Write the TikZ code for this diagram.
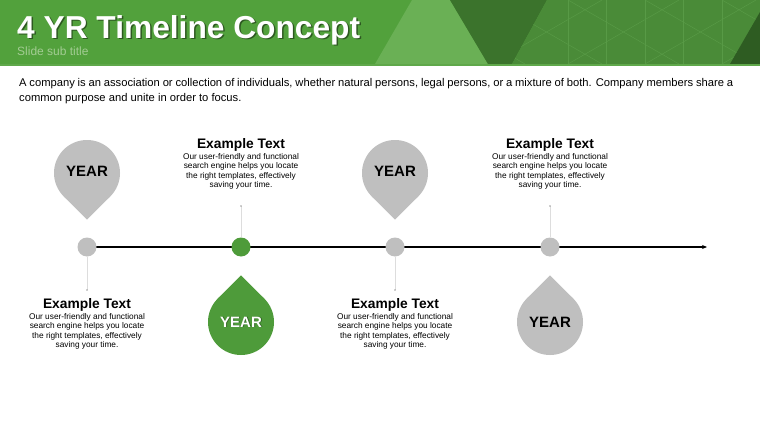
\documentclass[tikz,border=0pt]{standalone}
\usepackage{fontspec}
\setmainfont{Liberation Sans}
\usetikzlibrary{arrows.meta}
\definecolor{hdrgreen}{HTML}{52A13C}
\definecolor{hdrlight}{HTML}{6AB055}
\definecolor{hdrdark}{HTML}{3B732C}
\definecolor{hdrmid}{HTML}{4A8B38}
\definecolor{hdrdeep}{HTML}{2E5C22}
\definecolor{hdrline}{HTML}{5FA84A}
\definecolor{latt}{HTML}{589A46}
\definecolor{subttl}{HTML}{A3CC93}
\definecolor{tlgreen}{HTML}{4E9B3A}
\definecolor{tlgrey}{HTML}{BFBFBF}
\definecolor{connc}{HTML}{DDDDDD}
\definecolor{conndotc}{HTML}{A0A0A0}
\begin{document}
\begin{tikzpicture}[x=1pt,y=-1pt,
  dotnode/.style={circle,minimum size=19pt,inner sep=0pt},
  yeartxt/.style={font=\fontsize{15}{15}\selectfont\bfseries,inner sep=0pt},
  ttl/.style={font=\fontsize{13.8}{14}\selectfont\bfseries,anchor=base,inner sep=0pt},
  bodytxt/.style={font=\fontsize{8.3}{9.4}\selectfont,align=center,anchor=north,inner sep=0pt},
  para/.style={font=\fontsize{11.2}{15}\selectfont,anchor=base west,inner sep=0pt},
  conn/.style={draw=connc,line width=0.8pt},
  conndot/.style={fill=conndotc},
  lattline/.style={draw=latt,line width=0.5pt},
  tline/.style={draw=black,line width=1.2pt,-{Stealth[length=5pt,width=4pt]}}]
\useasboundingbox (0,0) rectangle (760,428);
\fill[white] (0,0) rectangle (760,428);
% header
\fill[hdrgreen] (0,0) rectangle (760,64);
\fill[hdrlight] (375,64) -- (412,0) -- (450,0) -- (488,64) -- cycle;
\fill[hdrdark] (450,0) -- (547,0) -- (512,64) -- (488,64) -- cycle;
\fill[hdrmid] (547,0) -- (760,0) -- (760,64) -- (512,64) -- cycle;
\begin{scope}
\clip (547,0) -- (760,0) -- (760,64) -- (512,64) -- cycle;
\foreach \i in {0,...,6} {
  \draw[lattline] (568+38.5*\i,0) -- (568+38.5*\i,64);
}
\foreach \i in {-2,...,4} {
  \draw[lattline] (491+77*\i,64) -- (491+77*\i+111,0);
  \draw[lattline] (491+77*\i,0) -- (491+77*\i+111,64);
}
\end{scope}
\fill[hdrdeep] (730,64) -- (760,64) -- (760,12) -- cycle;
\fill[hdrline] (0,64) rectangle (760,66);
\node[font=\fontsize{31.7}{32}\selectfont\bfseries,text=black,opacity=0.45,anchor=base west,inner sep=0pt] (titleshadow) at (18.5,39.5) {4 YR Timeline Concept};
\node[font=\fontsize{31.7}{32}\selectfont\bfseries,text=white,anchor=base west,inner sep=0pt] (title) at (17,38) {4 YR Timeline Concept};
\node[font=\fontsize{12}{12}\selectfont,text=subttl,anchor=base west,inner sep=0pt] (subtitle) at (17,56) {Slide sub title};
% paragraph
\node[para] (para1) at (19,86) {\makebox[714pt][s]{A company is an association or collection of individuals, whether natural persons, legal persons, or a mixture of both. Company members share a}};
\node[para] (para2) at (19,101) {common purpose and unite in order to focus.};
% timeline
\coordinate (k1) at (87,247);
\coordinate (k2) at (241,247);
\coordinate (k3) at (395,247);
\coordinate (k4) at (550,247);
\coordinate (aend) at (707,247);
\draw[tline] (k1) -- (aend);
\node[dotnode,fill=tlgrey] (c1) at (k1) {};
\node[dotnode,fill=tlgreen] (c2) at (k2) {};
\node[dotnode,fill=tlgrey] (c3) at (k3) {};
\node[dotnode,fill=tlgrey] (c4) at (k4) {};
% connectors
\coordinate (e1) at (87,290);
\coordinate (e2) at (241,206);
\coordinate (e3) at (395,290);
\coordinate (e4) at (550,206);
\draw[conn] (c1) -- (e1); \fill[conndot] (e1) circle[radius=0.9];
\draw[conn] (c2) -- (e2); \fill[conndot] (e2) circle[radius=0.9];
\draw[conn] (c3) -- (e3); \fill[conndot] (e3) circle[radius=0.9];
\draw[conn] (c4) -- (e4); \fill[conndot] (e4) circle[radius=0.9];
% pins (point down) at 87 and 395
\foreach \px in {87,395} {
  \fill[tlgrey] (\px,173) circle[radius=33];
  \fill[tlgrey] (\px,219.7) -- (\px+23.33,196.33) -- (\px,173) -- (\px-23.33,196.33) -- cycle;
}
% drops (point up) at 241 and 550
\fill[tlgreen] (241,322) circle[radius=33];
\fill[tlgreen] (241,275.3) -- (241+23.33,298.67) -- (241,322) -- (241-23.33,298.67) -- cycle;
\fill[tlgrey] (550,322) circle[radius=33];
\fill[tlgrey] (550,275.3) -- (550+23.33,298.67) -- (550,322) -- (550-23.33,298.67) -- cycle;
\node[yeartxt] (y1) at (87,171) {YEAR};
\node[yeartxt] (y3) at (395,171) {YEAR};
\node[yeartxt,text=black,opacity=0.35] (y2s) at (242,322.8) {YEAR};
\node[yeartxt,text=white] (y2) at (241,322) {YEAR};
\node[yeartxt] (y4) at (550,322) {YEAR};
% text blocks
\node[ttl] (h2) at (241,148) {Example Text};
\node[bodytxt] (b2) at (241,153) {Our user-friendly and functional\\search engine helps you locate\\the right templates, effectively\\saving your time.};
\node[ttl] (h4) at (550,148) {Example Text};
\node[bodytxt] (b4) at (550,153) {Our user-friendly and functional\\search engine helps you locate\\the right templates, effectively\\saving your time.};
\node[ttl] (h1) at (87,308) {Example Text};
\node[bodytxt] (b1) at (87,313) {Our user-friendly and functional\\search engine helps you locate\\the right templates, effectively\\saving your time.};
\node[ttl] (h3) at (395,308) {Example Text};
\node[bodytxt] (b3) at (395,313) {Our user-friendly and functional\\search engine helps you locate\\the right templates, effectively\\saving your time.};
\end{tikzpicture}
\end{document}
